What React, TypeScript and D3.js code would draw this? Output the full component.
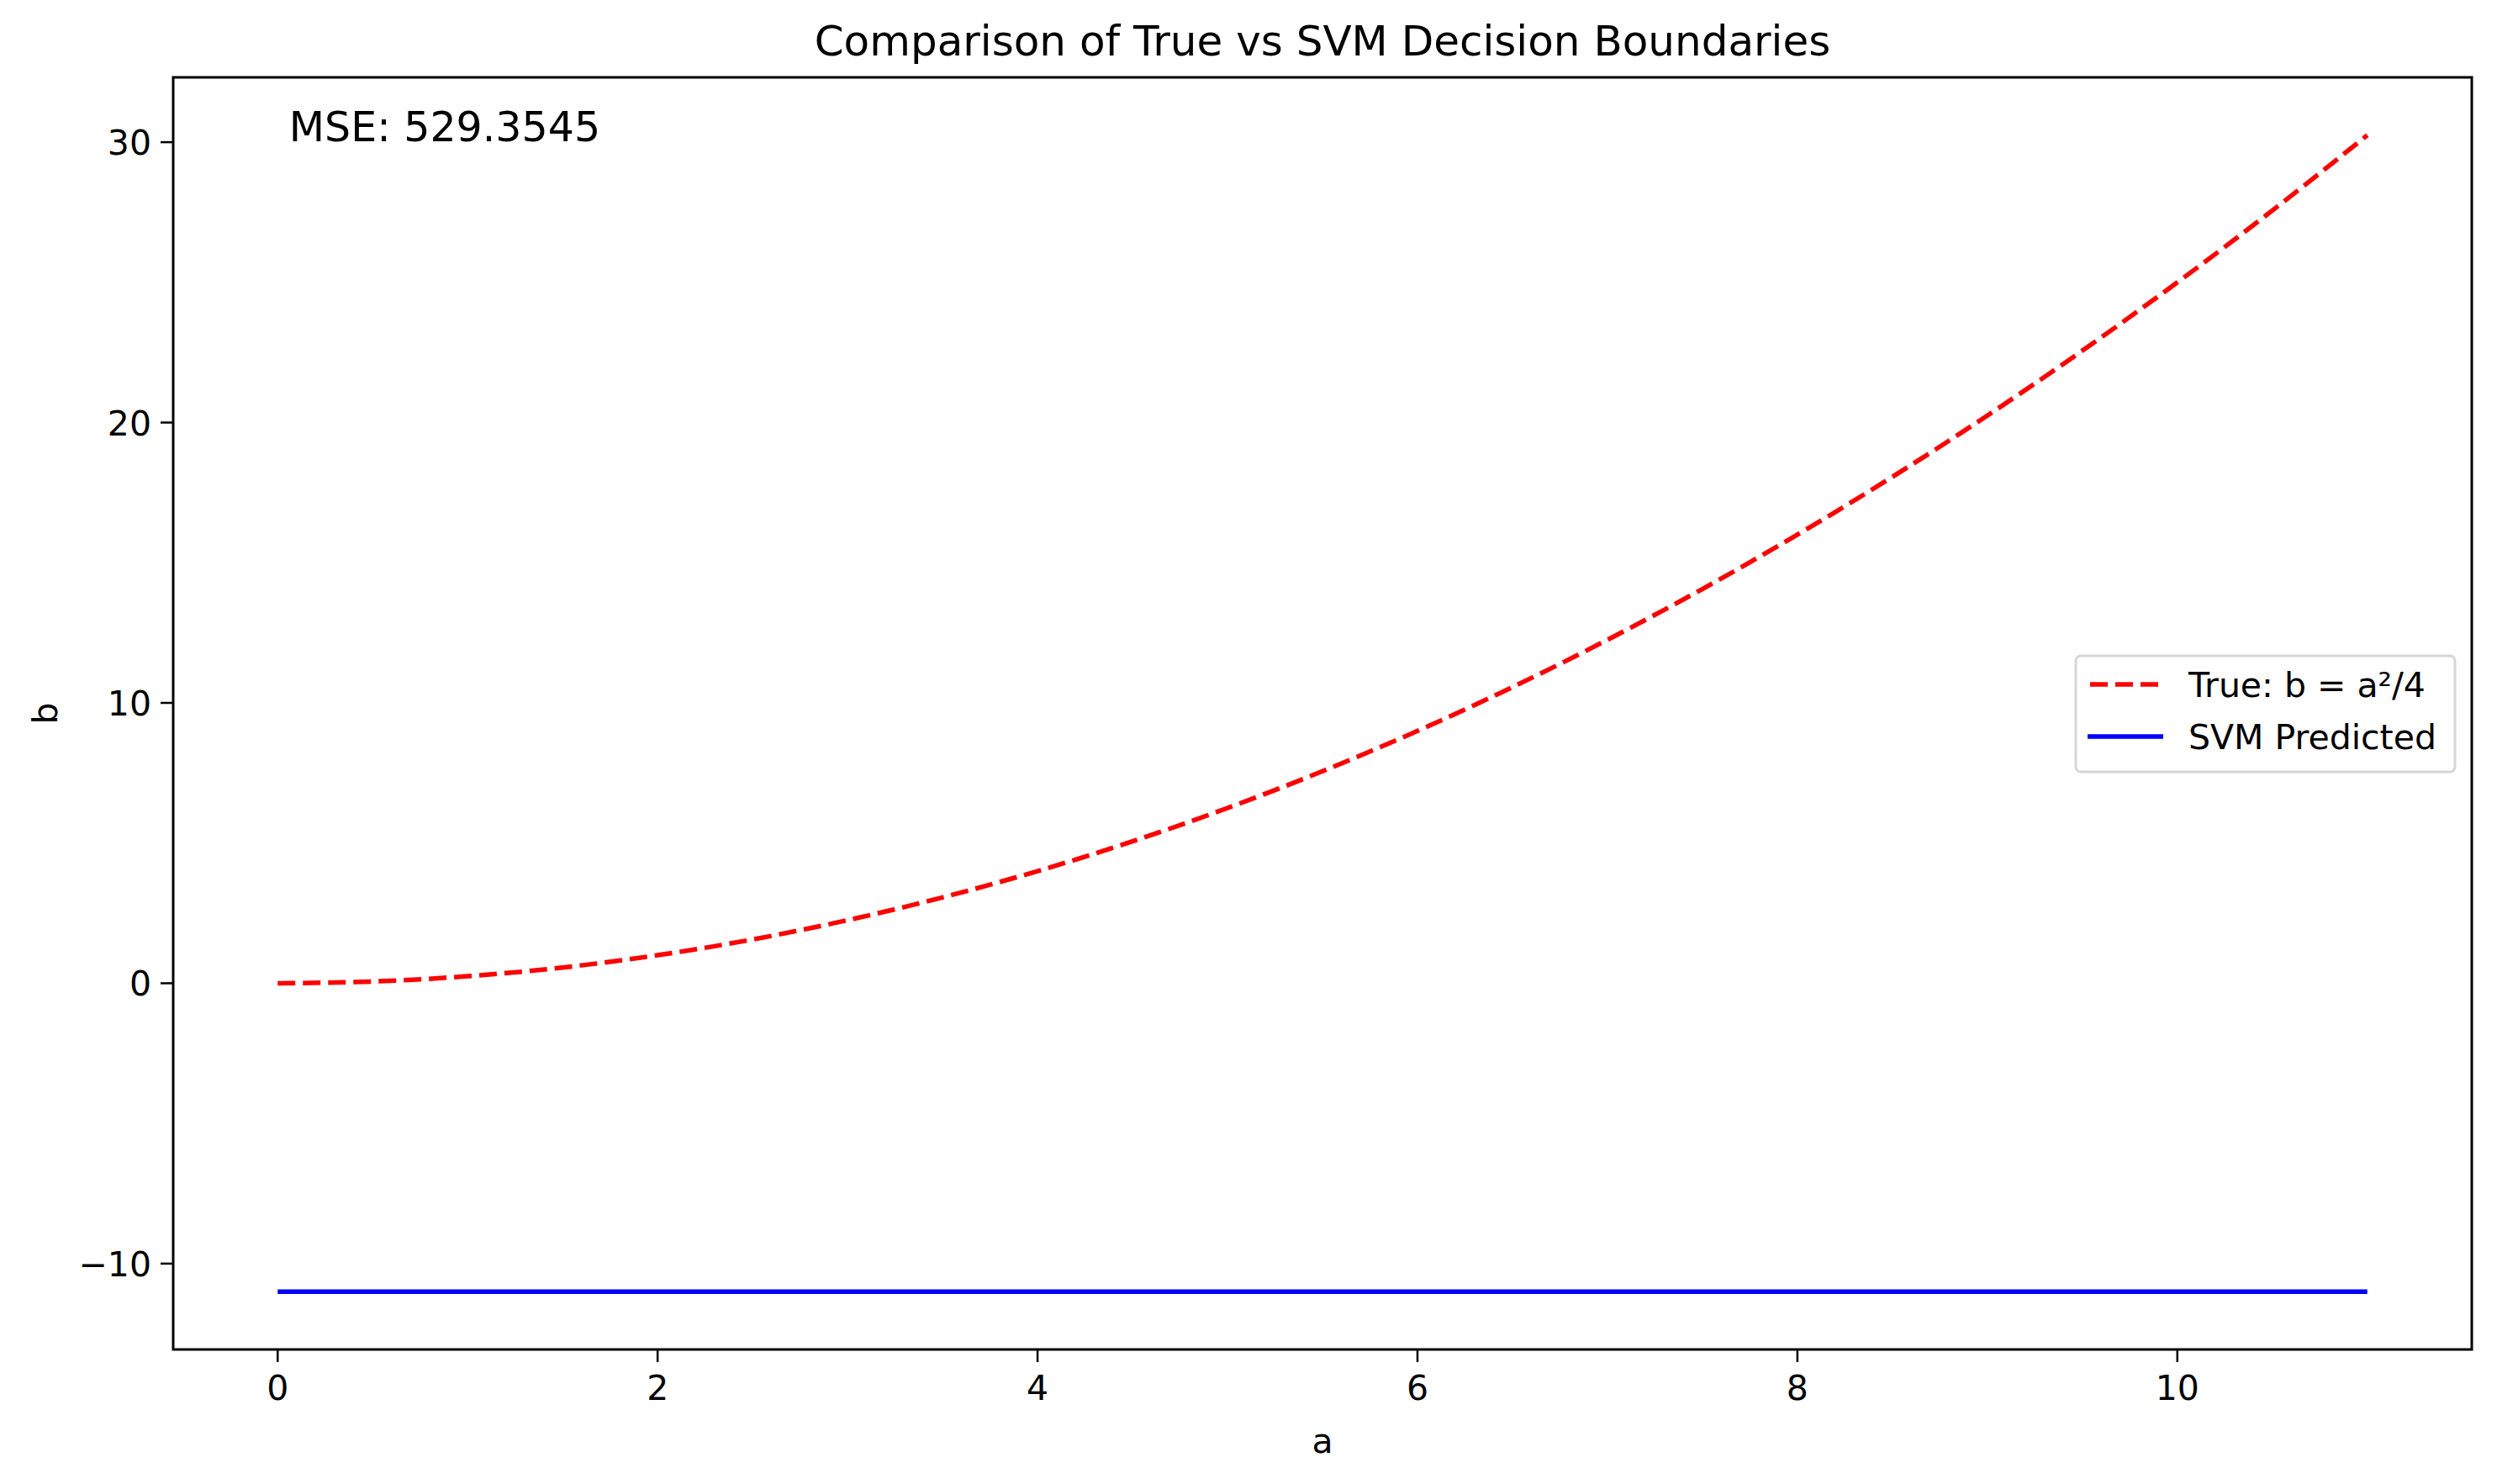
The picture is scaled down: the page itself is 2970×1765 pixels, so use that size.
import React from "react";
import * as d3 from "d3";

const aValues = [0,0.5,1,1.5,2,2.5,3,3.5,4,4.5,5,5.5,6,6.5,7,7.5,8,8.5,9,9.5,10,10.5,11];
const trueB = [0,0.0625,0.25,0.5625,1,1.5625,2.25,3.0625,4,5.0625,6.25,7.5625,9,10.5625,12.25,14.0625,16,18.0625,20.25,22.5625,25,27.5625,30.25];
const svmB = [-11,-11,-11,-11,-11,-11,-11,-11,-11,-11,-11,-11,-11,-11,-11,-11,-11,-11,-11,-11,-11,-11,-11];
const xTicks = [0,2,4,6,8,10];
const yTicks = [-10,0,10,20,30];
const legendLabels = ["True: b = a²/4", "SVM Predicted"];

export default function App() {
  const W = 2970, H = 1765;
  const L = 206, R = 2940, T = 92, B = 1605;
  const x = d3.scaleLinear().domain([-0.55, 11.55]).range([L, R]);
  const y = d3.scaleLinear().domain([-13.0625, 32.3125]).range([B, T]);
  const line = d3.line<number>().x((_, i) => x(aValues[i])).y(d => y(d)).curve(d3.curveMonotoneX);
  const font = "DejaVu Sans";
  return (
    <svg width={W} height={H} style={{ position: "absolute", left: 0, top: 0, background: "#fff" }} fontFamily={font}>
      <rect width={W} height={H} fill="#fff" />
      <text x={(L + R) / 2} y={66} fontSize={50} textAnchor="middle">Comparison of True vs SVM Decision Boundaries</text>
      <path d={line(trueB) || ""} fill="none" stroke="#ff0000" strokeWidth={5.5} strokeDasharray="21,9" />
      <path d={line(svmB) || ""} fill="none" stroke="#0000ff" strokeWidth={5.5} />
      <rect x={L} y={T} width={R - L} height={B - T} fill="none" stroke="#000" strokeWidth={3} />
      {xTicks.map(t => (
        <g key={t}>
          <line x1={x(t)} x2={x(t)} y1={B} y2={B + 15} stroke="#000" strokeWidth={2.5} />
          <text x={x(t)} y={B + 60} fontSize={41} textAnchor="middle">{t}</text>
        </g>
      ))}
      {yTicks.map(t => (
        <g key={t}>
          <line x1={L - 15} x2={L} y1={y(t)} y2={y(t)} stroke="#000" strokeWidth={2.5} />
          <text x={L - 26} y={y(t) + 15} fontSize={41} textAnchor="end">{t === -10 ? "−10" : t}</text>
        </g>
      ))}
      <text x={(L + R) / 2} y={1728} fontSize={41} textAnchor="middle">a</text>
      <text x={0} y={0} fontSize={41} textAnchor="middle" transform={`translate(68,${(T + B) / 2}) rotate(-90)`}>b</text>
      <text x={x(0.06)} y={168} fontSize={49}>MSE: 529.3545</text>
      <rect x={2469} y={780} width={451} height={138} rx={6} fill="#fff" stroke="#d6d6d6" strokeWidth={3} />
      <line x1={2486} x2={2570} y1={814} y2={814} stroke="#ff0000" strokeWidth={5.5} strokeDasharray="21,9" />
      <line x1={2483} x2={2573} y1={876} y2={876} stroke="#0000ff" strokeWidth={5.5} />
      <text x={2603} y={829} fontSize={41}>{legendLabels[0]}</text>
      <text x={2603} y={891} fontSize={41}>{legendLabels[1]}</text>
    </svg>
  );
}
